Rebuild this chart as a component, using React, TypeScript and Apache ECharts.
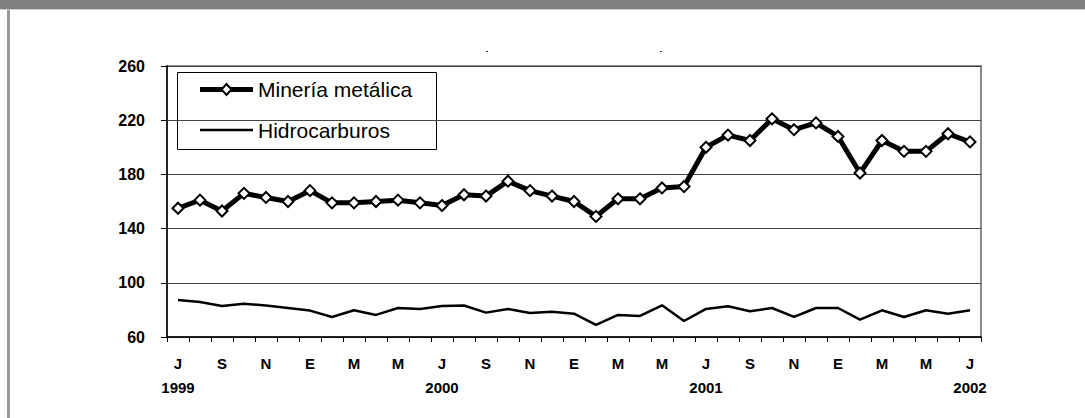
import React, { useEffect, useRef } from "react";
import * as echarts from "echarts";

const monthInitials = ["J", "A", "S", "O", "N", "D", "E", "F", "M", "A", "M", "J"];
const categories: string[] = [];
for (let i = 0; i < 37; i++) categories.push(monthInitials[i % 12]);

const yearLabels: Record<number, string> = { 0: "1999", 12: "2000", 24: "2001", 36: "2002" };

const seriesNames = ["Minería metálica", "Hidrocarburos"];

const mineriaMetalica = [
  155, 161, 153, 166, 163, 160, 168, 159, 159, 160, 161, 159, 157, 165, 164, 175, 168,
  164, 160, 149, 162, 162, 170, 171, 200, 209, 205, 221, 213, 218, 208, 181, 205, 197,
  197, 210, 204,
];

const hidrocarburos = [
  87.3, 85.9, 82.9, 84.6, 83.2, 81.4, 79.5, 74.8, 79.7, 76.3, 81.4, 80.7, 82.9, 83.2, 78,
  80.7, 77.7, 78.7, 77.2, 68.9, 76.3, 75.5, 83.4, 71.8, 80.7, 82.7, 79, 81.4, 74.8, 81.4,
  81.4, 72.8, 79.7, 74.8, 79.7, 77.2, 79.7,
];

const yMin = 60;
const yMax = 260;
const yInterval = 40;

export default function App() {
  const ref = useRef<HTMLDivElement>(null);
  useEffect(() => {
    if (!ref.current) return;
    const chart = echarts.init(ref.current, null, { renderer: "svg" });
    const font = "'Liberation Sans', Arial, sans-serif";
    const legY1 = 89.5;
    const legY2 = 130;
    const dx = 226.5;
    chart.setOption({
      animation: false,
      backgroundColor: "#fff",
      grid: {
        left: 167,
        right: 1085 - 981,
        top: 66,
        bottom: 418 - 337,
        show: true,
        borderColor: "#8a8a8a",
        borderWidth: 2,
        backgroundColor: "#fff",
      },
      xAxis: {
        type: "category",
        data: categories,
        boundaryGap: true,
        axisLine: { lineStyle: { color: "#000", width: 1.5 } },
        axisTick: { show: true, interval: 0, length: 5, lineStyle: { color: "#000", width: 1 } },
        axisLabel: {
          interval: 1,
          margin: 14,
          formatter: (v: string, i: number) =>
            yearLabels[i] ? `{m|${v}}\n{y|${yearLabels[i]}}` : `{m|${v}}`,
          rich: {
            m: { fontSize: 15, fontWeight: "bold", fontFamily: font, color: "#000", lineHeight: 24 },
            y: { fontSize: 15, fontWeight: "bold", fontFamily: font, color: "#000", lineHeight: 24 },
          },
        },
        splitLine: { show: false },
      },
      yAxis: {
        type: "value",
        min: yMin,
        max: yMax,
        interval: yInterval,
        axisLine: { show: true, lineStyle: { color: "#000", width: 1.5 } },
        axisTick: { show: true, length: 6, lineStyle: { color: "#000" } },
        axisLabel: {
          margin: 22,
          fontSize: 16,
          fontWeight: "bold",
          fontFamily: font,
          color: "#000",
        },
        splitLine: { show: true, lineStyle: { color: "#444", width: 1 } },
      },
      series: [
        {
          name: seriesNames[0],
          type: "line",
          data: mineriaMetalica,
          symbol: "diamond",
          symbolSize: 11,
          itemStyle: { color: "#fff", borderColor: "#000", borderWidth: 2 },
          lineStyle: { color: "#000", width: 5 },
          z: 3,
        },
        {
          name: seriesNames[1],
          type: "line",
          data: hidrocarburos,
          symbol: "none",
          itemStyle: { color: "#000" },
          lineStyle: { color: "#000", width: 2.5 },
          z: 2,
        },
      ],
      graphic: [
        { type: "rect", left: 0, top: 0, shape: { width: 1085, height: 9 }, style: { fill: "#808080" }, silent: true },
        { type: "rect", left: 0, top: 9, shape: { width: 1085, height: 1 }, style: { fill: "#cfcfcf" }, silent: true },
        { type: "rect", left: 7, top: 10, shape: { width: 3, height: 408 }, style: { fill: "#999" }, silent: true },
        { type: "rect", left: 486, top: 51, shape: { width: 2, height: 1 }, style: { fill: "#333" }, silent: true },
        { type: "rect", left: 660, top: 51, shape: { width: 2, height: 1 }, style: { fill: "#333" }, silent: true },
        {
          type: "group",
          z: 100,
          children: [
            {
              type: "rect",
              shape: { x: 177.5, y: 72.5, width: 259, height: 77 },
              style: { fill: "#fff", stroke: "#000", lineWidth: 1 },
            },
            {
              type: "line",
              shape: { x1: 200, y1: legY1, x2: 253, y2: legY1 },
              style: { stroke: "#000", lineWidth: 5 },
            },
            {
              type: "polygon",
              shape: {
                points: [
                  [dx, legY1 - 5.5],
                  [dx + 5, legY1],
                  [dx, legY1 + 5.5],
                  [dx - 5, legY1],
                ],
              },
              style: { fill: "#fff", stroke: "#000", lineWidth: 2 },
            },
            {
              type: "text",
              x: 258,
              y: legY1,
              style: {
                text: seriesNames[0],
                fontSize: 21,
                fontFamily: font,
                fill: "#000",
                verticalAlign: "middle",
              },
            },
            {
              type: "line",
              shape: { x1: 200, y1: legY2, x2: 253, y2: legY2 },
              style: { stroke: "#000", lineWidth: 2.5 },
            },
            {
              type: "text",
              x: 258,
              y: legY2,
              style: {
                text: seriesNames[1],
                fontSize: 21,
                fontFamily: font,
                fill: "#000",
                verticalAlign: "middle",
              },
            },
          ],
        },
      ],
    });
    return () => chart.dispose();
  }, []);
  return (
    <div
      ref={ref}
      style={{ position: "fixed", left: 0, top: 0, width: 1085, height: 418 }}
    />
  );
}
